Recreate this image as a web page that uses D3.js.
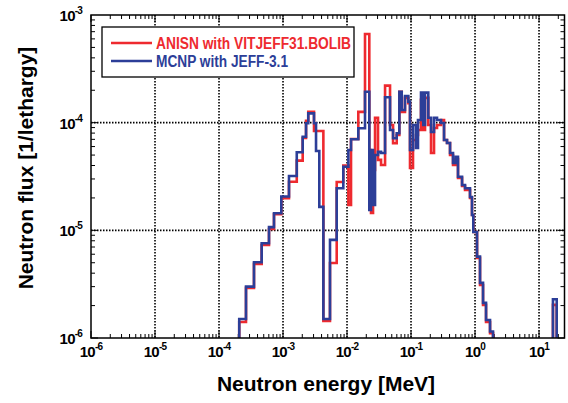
<!DOCTYPE html>
<html>
<head>
<meta charset="utf-8">
<script src="https://cdn.jsdelivr.net/npm/d3@7"></script>
<style>
  body { margin: 0; background: #fff; }
  text { font-family: "Liberation Sans", Arial, sans-serif; font-weight: bold; }
</style>
</head>
<body>
<script>
// group boundaries (MeV) and flux per group
var energyEdges = [1.5e-4, 2.07e-4, 2.64e-4, 3.52e-4, 4.64e-4, 6.04e-4, 7.23e-4, 9.40e-4, 1.24e-3, 1.64e-3,
  2.03e-3, 2.29e-3, 2.48e-3, 3.05e-3, 3.28e-3, 3.69e-3, 4.27e-3, 5.42e-3, 6.90e-3, 8.75e-3,
  1.05e-2, 1.155e-2, 1.50e-2, 1.91e-2, 2.23e-2, 2.37e-2, 2.55e-2, 2.74e-2, 3.05e-2, 3.40e-2,
  3.93e-2, 4.70e-2, 5.24e-2, 5.98e-2, 6.57e-2, 7.16e-2, 8.05e-2, 9.08e-2, 9.64e-2, 0.1074,
  0.1197, 0.1285, 0.1432, 0.1556, 0.1655, 0.1862, 0.2054, 0.2288, 0.2548, 0.2944,
  0.328, 0.365, 0.407, 0.453, 0.499, 0.542, 0.627, 0.698, 0.835, 0.897,
  0.940, 1.075, 1.197, 1.334, 1.486, 1.716, 1.911, 16.5, 18.9, 20];

var fluxAnisn = [1e-7, 1.41e-6, 2.92e-6, 4.88e-6, 7.31e-6, 1.03e-5, 1.41e-5, 1.99e-5, 2.83e-5, 4.44e-5,
  7.21e-5, 1.04e-4, 1.26e-4, 8.37e-5, 8.37e-5, 8.37e-5, 1.44e-6, 4.98e-6, 2.81e-5, 3.99e-5,
  1.72e-5, 7.06e-5, 1.26e-4, 6.66e-4, 5.58e-5, 1.45e-5, 3.64e-5, 1.11e-4, 4.51e-5, 4.05e-5,
  2.21e-4, 9.52e-5, 6.44e-5, 7.69e-5, 1.94e-4, 1.26e-4, 1.70e-4, 1.52e-4, 3.80e-5, 6.91e-5,
  7.69e-5, 8.55e-5, 1.63e-4, 8.55e-5, 1.70e-4, 9.52e-5, 5.23e-5, 8.93e-5, 9.52e-5, 1.06e-4,
  6.91e-5, 6.48e-5, 5.01e-5, 4.05e-5, 4.6e-5, 3.07e-5, 2.58e-5, 2.37e-5, 2.00e-5, 1.39e-5,
  9.66e-6, 5.55e-6, 3.11e-6, 2.03e-6, 1.41e-6, 1.11e-6, 1e-7, 2.03e-6, 1e-7];

var fluxMcnp = [1e-7, 1.50e-6, 3.00e-6, 5.06e-6, 7.59e-6, 1.07e-5, 1.44e-5, 2.06e-5, 3.20e-5, 5.31e-5,
  7.41e-5, 9.87e-5, 1.22e-4, 9.87e-5, 5.46e-5, 1.65e-5, 1.50e-6, 8.15e-6, 2.46e-5, 3.90e-5,
  5.58e-5, 7.01e-5, 8.87e-5, 1.94e-4, 1.55e-5, 5.58e-5, 1.72e-5, 5.01e-5, 5.35e-5, 5.23e-5,
  1.72e-4, 8.55e-5, 7.16e-5, 7.97e-5, 1.94e-4, 1.31e-4, 1.77e-4, 1.57e-4, 5.58e-5, 9.52e-5,
  5.82e-5, 1.06e-4, 1.90e-4, 9.52e-5, 1.90e-4, 1.11e-4, 8.20e-5, 1.11e-4, 1.06e-4, 9.93e-5,
  6.91e-5, 6.48e-5, 5.23e-5, 4.23e-5, 4.81e-5, 3.15e-5, 2.64e-5, 2.46e-5, 2.04e-5, 1.39e-5,
  9.66e-6, 5.70e-6, 3.25e-6, 2.12e-6, 1.47e-6, 1.15e-6, 1e-7, 2.29e-6, 1e-7];

var xTicks = [1e-6, 1e-5, 1e-4, 1e-3, 1e-2, 1e-1, 1e0, 1e1];
var xExp = ["-6", "-5", "-4", "-3", "-2", "-1", "0", "1"];
var yTicks = [1e-6, 1e-5, 1e-4, 1e-3];
var yExp = ["-6", "-5", "-4", "-3"];

var seriesNames = ["ANISN with VITJEFF31.BOLIB", "MCNP with JEFF-3.1"];
var seriesColors = ["#ee2a2f", "#2c3e98"];

var W = 568, H = 403;
var pL = 91, pR = 564.5, pT = 15, pB = 338;

var svg = d3.select("body").append("svg").attr("width", W).attr("height", H);

var x = d3.scaleLog().domain([1e-6, 25]).range([pL, pR]);
var y = d3.scaleLog().domain([1e-6, 1e-3]).range([pB, pT]);

svg.append("defs").append("clipPath").attr("id", "clip")
  .append("rect").attr("x", pL).attr("y", pT).attr("width", pR - pL).attr("height", pB - pT);

// grid (dotted)
var grid = svg.append("g");
xTicks.slice(1).forEach(function(t) {
  grid.append("line").attr("x1", x(t)).attr("x2", x(t)).attr("y1", pT).attr("y2", pB)
    .attr("stroke", "#000").attr("stroke-width", 1.6).attr("stroke-dasharray", "1.5,1.5");
});
yTicks.slice(1, 3).forEach(function(t) {
  grid.append("line").attr("x1", pL).attr("x2", pR).attr("y1", y(t)).attr("y2", y(t))
    .attr("stroke", "#000").attr("stroke-width", 1.6).attr("stroke-dasharray", "1.5,1.5");
});

// minor and major ticks, inward on all sides
var ticks = svg.append("g").attr("stroke", "#000").attr("stroke-width", 1);
for (var k = -6; k <= 1; k++) {
  for (var m = 1; m <= 9; m++) {
    var v = m * Math.pow(10, k);
    if (v > 25) continue;
    var len = m == 1 ? 7 : 4;
    ticks.append("line").attr("x1", x(v)).attr("x2", x(v)).attr("y1", pB).attr("y2", pB - len);
    ticks.append("line").attr("x1", x(v)).attr("x2", x(v)).attr("y1", pT).attr("y2", pT + len);
  }
}
for (var k2 = -6; k2 <= -4; k2++) {
  for (var m2 = 1; m2 <= 9; m2++) {
    var v2 = m2 * Math.pow(10, k2);
    var len2 = m2 == 1 ? 7 : 4;
    ticks.append("line").attr("y1", y(v2)).attr("y2", y(v2)).attr("x1", pL).attr("x2", pL + len2);
    ticks.append("line").attr("y1", y(v2)).attr("y2", y(v2)).attr("x1", pR).attr("x2", pR - len2);
  }
}

// step curves
function stepPoints(vals) {
  var pts = [];
  vals.forEach(function(v, i) {
    pts.push([energyEdges[i], v]);
    pts.push([energyEdges[i + 1], v]);
  });
  return pts;
}
var line = d3.line().x(function(d) { return x(d[0]); }).y(function(d) { return y(d[1]); });
var curves = svg.append("g").attr("clip-path", "url(#clip)");
[fluxAnisn, fluxMcnp].forEach(function(vals, i) {
  curves.append("path").attr("d", line(stepPoints(vals)))
    .attr("fill", "none").attr("stroke", seriesColors[i]).attr("stroke-width", 2.6)
    .attr("stroke-linejoin", "miter");
});

// frame
svg.append("rect").attr("x", pL).attr("y", pT).attr("width", pR - pL).attr("height", pB - pT)
  .attr("fill", "none").attr("stroke", "#000").attr("stroke-width", 1.5);

// tick labels
xTicks.forEach(function(t, i) {
  var tx = svg.append("text").attr("x", x(t)).attr("y", 357).attr("text-anchor", "middle")
    .attr("font-size", 15).attr("letter-spacing", -0.8);
  tx.append("tspan").text("10");
  tx.append("tspan").attr("dy", -7).attr("font-size", 10).text(xExp[i]);
});
yTicks.forEach(function(t, i) {
  var ty = svg.append("text").attr("x", 82).attr("y", y(t) + 6).attr("text-anchor", "end")
    .attr("font-size", 15).attr("letter-spacing", -0.8);
  ty.append("tspan").text("10");
  ty.append("tspan").attr("dy", -7).attr("font-size", 10).text(yExp[i]);
});

// axis titles
svg.append("text").attr("x", 326).attr("y", 391).attr("text-anchor", "middle")
  .attr("font-size", 21).text("Neutron energy [MeV]");
svg.append("text").attr("transform", "translate(33,168) rotate(-90)").attr("text-anchor", "middle")
  .attr("font-size", 21).text("Neutron flux [1/lethargy]");

// legend
var lg = svg.append("g");
lg.append("rect").attr("x", 102).attr("y", 27).attr("width", 252).attr("height", 50)
  .attr("fill", "#fff").attr("stroke", "#000").attr("stroke-width", 1.3);
var legendWidths = [195, 132];
seriesNames.forEach(function(name, i) {
  var ly = 43 + i * 18;
  lg.append("line").attr("x1", 111).attr("x2", 152).attr("y1", ly).attr("y2", ly)
    .attr("stroke", seriesColors[i]).attr("stroke-width", 2.6);
  lg.append("text").attr("x", 156).attr("y", ly + 6).attr("font-size", 16)
    .attr("fill", seriesColors[i]).attr("textLength", legendWidths[i])
    .attr("lengthAdjust", "spacingAndGlyphs").text(name);
});
</script>
</body>
</html>
